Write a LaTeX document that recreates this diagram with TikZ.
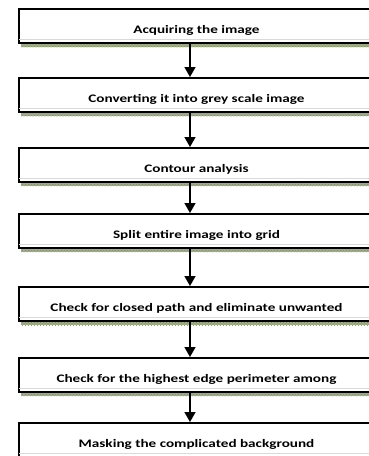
\documentclass[tikz,border=0pt]{standalone}
\usepackage{fontspec}
\setmainfont{Carlito}
\usetikzlibrary{positioning}
\usetikzlibrary{arrows.meta}
\usetikzlibrary{patterns}

\definecolor{shadowgreen}{RGB}{160,173,136}
\definecolor{shadowdark}{RGB}{125,140,100}

\begin{document}
\begin{tikzpicture}[x=1pt,y=-1pt,
    stepbox/.style={rectangle,draw=black,line width=2pt,fill=white,
        minimum width=357pt,minimum height=34pt,inner sep=0pt,anchor=north west},
    steptext/.style={font=\bfseries\fontsize{11.5}{13}\selectfont,anchor=base,xscale=1.32},
    stepshadow/.style={preaction={fill=shadowgreen},pattern=crosshatch dots,pattern color=shadowdark},
    flow/.style={line width=1.5pt,-{Triangle[length=10pt,width=11pt]}}]
\useasboundingbox (0,0) rectangle (369,456);

% the steps, top to bottom
\foreach \t/\n/\txt in {8/s1/Acquiring the image,
    77/s2/Converting it into grey scale image,
    147/s3/Contour analysis,
    213/s4/Split entire image into grid,
    286/s5/Check for closed path and eliminate unwanted,
    357/s6/Check for the highest edge perimeter among,
    422/s7/Masking the complicated background}{
  \fill[stepshadow] (21,\t+34) rectangle (380,\t+39);
  \node[stepbox] (\n) at (18,\t) {};
  \draw[gray!30,line width=0.5pt] (19,\t+31) -- (380,\t+31);
  \begin{scope}
    \clip (18,\t) rectangle (380,\t+26);
    \node[steptext] at (196.5,\t+25) {\txt};
  \end{scope}
}

% arrows between the steps
\foreach \a/\b in {s1/s2,s2/s3,s3/s4,s4/s5,s5/s6,s6/s7}
  \draw[flow] ([xshift=-7.5pt]\a.south) -- ([xshift=-7.5pt]\b.north);
\end{tikzpicture}
\end{document}
